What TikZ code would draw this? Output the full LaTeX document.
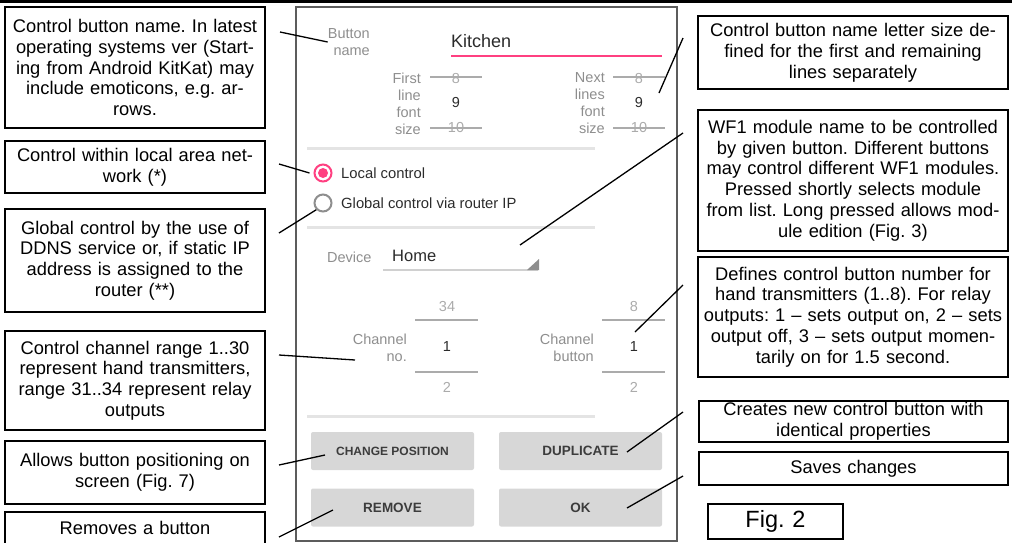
\documentclass[tikz,border=0pt]{standalone}
\usepackage{fontspec}
\setmainfont{Liberation Sans}
\frenchspacing

\definecolor{accent}{HTML}{FF4081}
\definecolor{uigray}{HTML}{8E8E8E}
\definecolor{uidark}{HTML}{2B2B2B}
\definecolor{sepgray}{HTML}{E4E4E4}
\definecolor{pickgray}{HTML}{ABABAB}
\definecolor{btnfill}{HTML}{D7D7D7}
\definecolor{btntext}{HTML}{3C3C3C}
\definecolor{framegray}{HTML}{5C5C5C}

\newcommand\callfont{\fontsize{18.3}{20.8}\selectfont}
\newcommand\uifont{\fontsize{14.5}{17}\selectfont}

\tikzset{
    callout/.style={draw, line width=1.3pt, inner sep=0pt, align=center, font=\callfont},
    leader/.style={line width=1.3pt},
    uilabel/.style={text=uigray, font=\uifont, inner sep=0pt},
    uitext/.style={text=uidark, inner sep=0pt},
    pickline/.style={draw=pickgray, line width=1.4pt},
    sepline/.style={draw=sepgray, line width=3pt},
    uibtn/.style={fill=btnfill, rounded corners=2pt, minimum width=163pt, minimum height=38pt,
        inner sep=0pt, text=btntext, font=\fontsize{13.5}{15}\selectfont\bfseries}
}

\begin{document}
\begin{tikzpicture}[x=1pt,y=-1pt]
        \clip (0,0) rectangle (1012,542);

        %%%%%%%% Cornice %%%%%%%%%
        \fill (0,0) rectangle (1012,3);
        \draw[framegray, line width=2pt] (296,7) rectangle (677,541);

        %%%%%%%% Schermo %%%%%%%%%
        \foreach \y in {148,227,416}
            \draw[sepline] (307,\y) -- (595,\y);

        \node[uilabel, align=right, anchor=east] (btnname) at (370,42) {Button\\name};
        \node[uitext, anchor=west, font=\fontsize{18}{20}\selectfont] (kitchen) at (451,41) {Kitchen};
        \draw[accent, line width=2pt] (451,56) -- (662,56);

        \node[uilabel, align=right, anchor=east] (firstlbl) at (421,103.5) {First\\line\\font\\size};
        \node[uilabel, align=right, anchor=east] (nextlbl) at (605,103.5) {Next\\lines\\font\\size};
        \foreach \x in {456,639} {
            \draw[pickline] (\x-26,77) -- (\x+26,77);
            \draw[pickline] (\x-26,128) -- (\x+26,128);
            \node[uilabel, text=pickgray] (up\x) at (\x,79) {8};
            \node[uitext, font=\uifont] (cur\x) at (\x,103) {9};
            \node[uilabel, text=pickgray] (dn\x) at (\x,128) {10};
        }

        \node[circle, draw=accent, line width=2pt, minimum size=17pt, inner sep=0pt] (rlocal) at (323,173) {};
        \fill[accent] (rlocal.center) circle (5);
        \node[circle, draw=uigray, line width=2pt, minimum size=17pt, inner sep=0pt] (rglobal) at (323,203) {};
        \node[uitext, anchor=west, font=\fontsize{14.8}{17}\selectfont] (locallbl) at (341,173) {Local control};
        \node[uitext, anchor=west, font=\fontsize{14.8}{17}\selectfont] (globallbl) at (341,203) {Global control via router IP};

        \node[uilabel, anchor=west] (devlbl) at (327,257) {Device};
        \node[uitext, anchor=west, font=\fontsize{16.5}{18}\selectfont] (devname) at (392,256) {Home};
        \draw[sepgray!80!gray, line width=1.2pt] (383,270) -- (538,270);
        \fill[uigray] (539,259) -- (539,270) -- (527,270) -- cycle;

        \node[uilabel, align=right, anchor=east] (chno) at (407,347.5) {Channel\\no.};
        \node[uilabel, align=right, anchor=east] (chbtn) at (594,347.5) {Channel\\button};
        \foreach \x/\t in {447/34,634/8} {
            \draw[pickline] (\x-32,320) -- (\x+31,320);
            \draw[pickline] (\x-32,372) -- (\x+31,372);
            \node[uilabel, text=pickgray] (chup\x) at (\x,306) {\t};
            \node[uitext, font=\uifont] (chcur\x) at (\x,347) {1};
            \node[uilabel, text=pickgray] (chdn\x) at (\x,387) {2};
        }

        \node[uibtn, font=\fontsize{12}{14}\selectfont\bfseries] (chgpos) at (392.5,451) {CHANGE POSITION};
        \node[uibtn] (dupl) at (580.5,451) {DUPLICATE};
        \node[uibtn] (remove) at (392.5,507.5) {REMOVE};
        \node[uibtn] (ok) at (580.5,507.5) {OK};

        %%%%%%%%% Didascalie %%%%%%%%%%
        \node[callout, text width=260pt, minimum height=121pt] (cname) at (135,67.5)
            {Control button name. In latest\\operating systems ver (Start-\\ing from Android KitKat) may\\include emoticons, e.g. ar-\\rows.};
        \node[callout, text width=260pt, minimum height=52pt] (clocal) at (135,167)
            {Control within local area net-\\work (*)};
        \node[callout, text width=260pt, minimum height=103pt] (cglobal) at (135,260.5)
            {Global control by the use of\\DDNS service or, if static IP\\address is assigned to the\\router (**)};
        \node[callout, text width=260pt, minimum height=99pt] (cchan) at (135,380.5)
            {Control channel range 1..30\\represent hand transmitters,\\range 31..34 represent relay\\outputs};
        \node[callout, text width=260pt, minimum height=63pt] (cpos) at (135,472.5)
            {Allows button positioning on\\screen (Fig. 7)};
        \node[callout, text width=260pt, minimum height=32pt] (cremove) at (135,528)
            {Removes a button};

        \node[callout, text width=310pt, minimum height=73pt] (csize) at (853,52.5)
            {Control button name letter size de-\\fined for the first and remaining\\lines separately};
        \node[callout, text width=310pt, minimum height=141pt] (cdevice) at (853,180.5)
            {WF1 module name to be controlled\\by given button. Different buttons\\may control different WF1 modules.\\Pressed shortly selects module\\from list. Long pressed allows mod-\\ule edition (Fig. 3)};
        \node[callout, text width=310pt, minimum height=120pt] (cbutton) at (853,317)
            {Defines control button number for\\hand transmitters (1..8). For relay\\outputs: 1 – sets output on, 2 – sets\\output off, 3 – sets output momen-\\tarily on for 1.5 second.};
        \node[callout, text width=309pt, minimum height=41pt] (cdupl) at (853.5,421.5)
            {Creates new control button with\\identical properties};
        \node[callout, text width=309pt, minimum height=33pt] (cok) at (853.5,468.5)
            {Saves changes};
        \node[callout, text width=135pt, minimum height=35pt, font=\fontsize{23.5}{26}\selectfont] (fig) at (775.5,521.5)
            {Fig. 2};

        %%%%%%%%% Linee %%%%%%%%%%
        \coordinate (a1) at (280,32);
        \coordinate (a2) at (279,164);
        \coordinate (a3) at (279,233);
        \coordinate (a4) at (279,355);
        \coordinate (a5) at (279,465);
        \coordinate (a6) at (279,537);
        \coordinate (e4) at (355,360);
        \coordinate (e5) at (325,455);
        \coordinate (e6) at (333,510);

        \draw[leader] (a1) -- (btnname.west);
        \draw[leader] (a2) -- ([xshift=-4pt]rlocal.west);
        \draw[leader] (a3) -- (rglobal.south west);
        \draw[leader] (a4) -- (e4);
        \draw[leader] (a5) -- (e5);
        \draw[leader] (a6) -- (e6);

        \coordinate (b1) at (683,38);
        \coordinate (b2) at (683,133);
        \coordinate (b3) at (683,285);
        \coordinate (b4) at (683,412);
        \coordinate (b5) at (683,476);
        \coordinate (f1) at (659,93);
        \coordinate (f2) at (520,245);
        \coordinate (f3) at (635,332);
        \coordinate (f4) at (627,452);
        \coordinate (f5) at (627,508);

        \foreach \i in {1,...,5}
            \draw[leader] (b\i) -- (f\i);

    \end{tikzpicture}
\end{document}
